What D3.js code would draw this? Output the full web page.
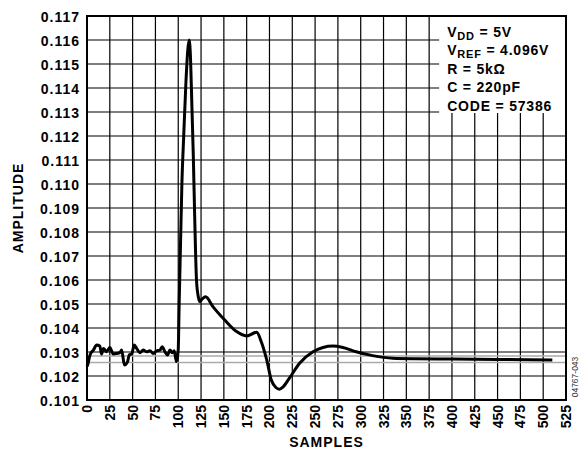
<!DOCTYPE html>
<html>
<head>
<meta charset="utf-8">
<script src="https://cdn.jsdelivr.net/npm/d3@7"></script>
<style>
  body { margin: 0; background: #fff; }
  text { font-family: "Liberation Sans", Arial, sans-serif; }
</style>
</head>
<body>
<div id="chart"></div>
<script>
// samples
const samples = [0, 1, 3.3, 7, 10.6, 14, 16, 18, 21.5, 25, 28.8, 32.5, 36, 38, 41, 44.5, 46.3, 49, 51.8, 54.4,
  58, 61.6, 65.3, 69, 72.6, 76.3, 80, 82.4, 85.4, 88.3, 91, 93.4, 95.6, 98, 100,
  101, 102.5, 104, 106, 108.5, 110.5, 112, 113.5, 115, 116.5, 118, 120, 122, 123.5, 126, 130,
  138, 151, 164, 175, 186, 191, 197, 202, 207, 211, 215, 222, 233, 247.7, 258.6, 269.6, 280.5,
  295, 313, 335, 360, 400, 450, 510];
const amplitude = [0.10240, 0.10250, 0.10288, 0.10308, 0.10329, 0.10325, 0.10292, 0.10315, 0.10301, 0.10319, 0.10292, 0.10294, 0.10297, 0.10308, 0.10246, 0.10260, 0.10288, 0.10292, 0.10329, 0.10315,
  0.10297, 0.10308, 0.10301, 0.10305, 0.10294, 0.10305, 0.10308, 0.10322, 0.10301, 0.10288, 0.10308, 0.10297, 0.10305, 0.10260, 0.10310,
  0.10500, 0.10750, 0.11000, 0.11200, 0.11430, 0.11560, 0.11600, 0.11520, 0.11320, 0.11120, 0.10870, 0.10600, 0.10530, 0.10510, 0.10520, 0.10530,
  0.10489, 0.10433, 0.10385, 0.10367, 0.10382, 0.10343, 0.10267, 0.10183, 0.10152, 0.10145, 0.10155, 0.10192, 0.10253, 0.10301, 0.10319, 0.10325, 0.10319,
  0.10301, 0.10285, 0.10274, 0.10272, 0.10271, 0.10269, 0.10267];

const refLevels = [0.10283, 0.10256];
const xTicks = d3.range(0, 526, 25);
const yTicks = d3.range(0.101, 0.1171, 0.001);
const legendLines = [
  { main: "V", sub: "DD", rest: " = 5V" },
  { main: "V", sub: "REF", rest: " = 4.096V" },
  { main: "R = 5kΩ", sub: "", rest: "" },
  { main: "C = 220pF", sub: "", rest: "" },
  { main: "CODE = 57386", sub: "", rest: "" }
];

const width = 581;
const height = 453;
const margin = { top: 16, right: 15, bottom: 53, left: 87 };

const svg = d3.select("#chart")
  .append("svg")
  .attr("width", width)
  .attr("height", height);

const x = d3.scaleLinear()
  .domain([0, 525])
  .range([margin.left, width - margin.right]);

const y = d3.scaleLinear()
  .domain([0.101, 0.117])
  .range([height - margin.bottom, margin.top]);

// grid
svg.append("g")
  .selectAll("line")
  .data(xTicks)
  .enter()
  .append("line")
  .attr("x1", d => x(d))
  .attr("x2", d => x(d))
  .attr("y1", y(0.101))
  .attr("y2", y(0.117))
  .attr("stroke", "#000")
  .attr("stroke-width", 1.2);

svg.append("g")
  .selectAll("line")
  .data(yTicks)
  .enter()
  .append("line")
  .attr("x1", x(0))
  .attr("x2", x(525))
  .attr("y1", d => y(d))
  .attr("y2", d => y(d))
  .attr("stroke", "#000")
  .attr("stroke-width", 1.2);

// reference lines
svg.append("g")
  .selectAll("line")
  .data(refLevels)
  .enter()
  .append("line")
  .attr("x1", x(0))
  .attr("x2", x(525))
  .attr("y1", d => y(d))
  .attr("y2", d => y(d))
  .attr("stroke", "#aaa")
  .attr("stroke-width", 1.5);

// legend box
const lgX = x(386);
svg.append("rect")
  .attr("x", lgX)
  .attr("y", y(0.117))
  .attr("width", x(525) - lgX)
  .attr("height", 97)
  .attr("fill", "#fff");

const lg = svg.append("text")
  .attr("font-size", "14px")
  .attr("font-weight", "bold")
  .attr("letter-spacing", "0.8px")
  .attr("fill", "#000");

legendLines.forEach((l, i) => {
  lg.append("tspan")
    .attr("x", lgX + 8)
    .attr("y", 37 + i * 18.4)
    .text(l.main);
  if (l.sub) {
    lg.append("tspan").attr("dy", 3).attr("font-size", "11px").text(l.sub);
    lg.append("tspan").attr("dy", -3).text(l.rest);
  }
});

// frame
svg.append("rect")
  .attr("x", x(0))
  .attr("y", y(0.117))
  .attr("width", x(525) - x(0))
  .attr("height", y(0.101) - y(0.117))
  .attr("fill", "none")
  .attr("stroke", "#000")
  .attr("stroke-width", 2);

// curve
const pts = samples.map((s, i) => [s, amplitude[i]]);
svg.append("path")
  .datum(pts)
  .attr("fill", "none")
  .attr("stroke", "#000")
  .attr("stroke-width", 3)
  .attr("stroke-linejoin", "round")
  .attr("d", d3.line()
    .x(d => x(d[0]))
    .y(d => y(d[1]))
    .curve(d3.curveMonotoneX));

// y tick labels
svg.append("g")
  .selectAll("text")
  .data(yTicks)
  .enter()
  .append("text")
  .attr("x", x(0) - 7)
  .attr("y", d => y(d) + 6)
  .attr("text-anchor", "end")
  .attr("font-size", "14px")
  .attr("font-weight", "bold")
  .attr("letter-spacing", "1px")
  .text(d => d3.format(".3f")(d));

// x tick labels
svg.append("g")
  .selectAll("text")
  .data(xTicks)
  .enter()
  .append("text")
  .attr("transform", d => `translate(${x(d) + 5},${y(0.101) + 5}) rotate(-90)`)
  .attr("text-anchor", "end")
  .attr("font-size", "14px")
  .attr("font-weight", "bold")
  .text(d => d);

svg.append("text")
  .attr("x", (x(0) + x(525)) / 2)
  .attr("y", 447)
  .attr("text-anchor", "middle")
  .attr("font-size", "14px")
  .attr("font-weight", "bold")
  .attr("letter-spacing", "1px")
  .text("SAMPLES");

svg.append("text")
  .attr("transform", `translate(23,${(y(0.101) + y(0.117)) / 2}) rotate(-90)`)
  .attr("text-anchor", "middle")
  .attr("font-size", "14px")
  .attr("font-weight", "bold")
  .attr("letter-spacing", "1px")
  .text("AMPLITUDE");

svg.append("text")
  .attr("transform", "translate(578,377) rotate(-90)")
  .attr("text-anchor", "middle")
  .attr("font-size", "8.5px")
  .attr("fill", "#333")
  .text("04767-043");
</script>
</body>
</html>
